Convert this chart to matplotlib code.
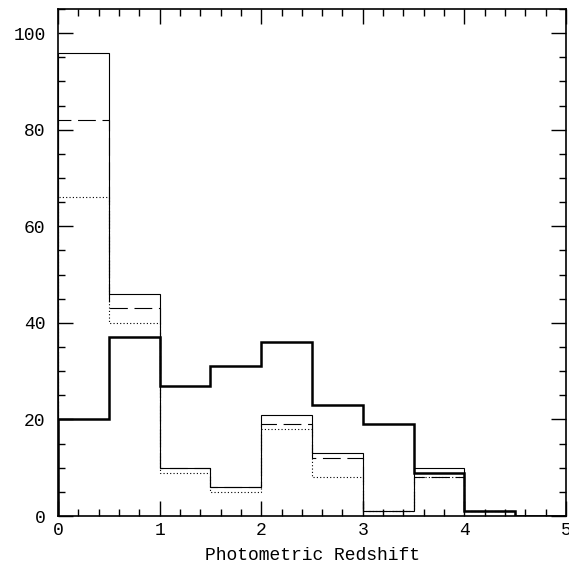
import numpy as np
import matplotlib.pyplot as plt
from matplotlib.ticker import MultipleLocator

# bin edges in photometric redshift
edges = [0, 0.5, 1, 1.5, 2, 2.5, 3, 3.5, 4, 4.5, 5]

# counts per bin
thin_solid = [96, 46, 10, 6, 21, 13, 1, 10, 1, 0]
dashed     = [82, 43, 10, 6, 19, 12, 1, 8, 1, 0]
dotted     = [66, 40, 9, 5, 18, 8, 1, 8, 1, 0]
thick      = [20, 37, 27, 31, 36, 23, 19, 9, 1, 0]

plt.rcParams['font.family'] = ['Liberation Mono', 'DejaVu Sans Mono']

fig = plt.figure(figsize=(5.69, 5.66), dpi=100)
ax = fig.add_axes([0.102, 0.0883, 0.8927, 0.8957])

ax.stairs(thin_solid, edges, color='black', lw=0.8)
ax.stairs(dashed, edges, color='black', lw=0.8, linestyle=(0, (16, 6)))
ax.stairs(dotted, edges, color='black', lw=0.8, linestyle=(0, (1, 2)))
ax.stairs(thick, edges, color='black', lw=1.8)

ax.set_xlim(0, 5)
ax.set_ylim(0, 105)
ax.xaxis.set_major_locator(MultipleLocator(1))
ax.xaxis.set_minor_locator(MultipleLocator(0.2))
ax.yaxis.set_major_locator(MultipleLocator(20))
ax.yaxis.set_minor_locator(MultipleLocator(5))
ax.tick_params(which='both', direction='in', top=True, right=True, width=1)
ax.tick_params(which='major', length=11, labelsize=13)
ax.tick_params(axis='y', which='major', pad=9)
ax.tick_params(axis='x', which='major', pad=4)
ax.tick_params(which='minor', length=5)
for s in ax.spines.values():
    s.set_linewidth(1.2)

ax.set_xlabel('Photometric Redshift', fontsize=13, labelpad=6)

fig.savefig('out.png', dpi=100)
